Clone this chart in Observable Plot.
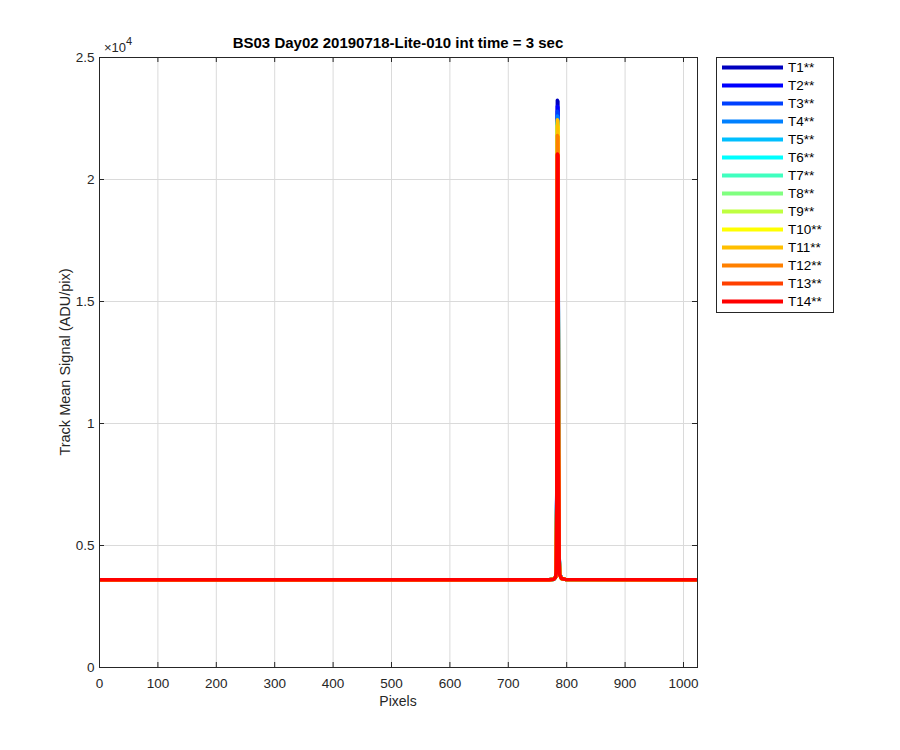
<!DOCTYPE html>
<html><head><meta charset="utf-8">
<script src="https://cdn.jsdelivr.net/npm/d3@7"></script>
<script src="https://cdn.jsdelivr.net/npm/@observablehq/plot@0.6"></script>
<style>body{margin:0;background:#fff;}</style>
</head><body><div id="chart"></div>
<script>
const title = "BS03 Day02 20190718-Lite-010 int time = 3 sec";
const xLabel = "Pixels";
const yLabel = "Track Mean Signal (ADU/pix)";
const yExponent = "4";
const seriesNames = ["T1**","T2**","T3**","T4**","T5**","T6**","T7**","T8**","T9**","T10**","T11**","T12**","T13**","T14**"];
const seriesColors = ["#0000BF","#0000FF","#0040FF","#0080FF","#00BFFF","#00FFFF","#40FFBF","#80FF80","#BFFF40","#FFFF00","#FFBF00","#FF8000","#FF4000","#FF0000"];
const pixels = [0, 770, 778, 781, 782, 783, 784, 785, 786, 787, 788, 791, 798, 1023];
const T1  = [3600, 3600, 3620, 3720, 3950, 7200, 23250, 23200, 9600, 4700, 3850, 3660, 3610, 3600];
const T2  = [3600, 3600, 3620, 3715, 3940, 7100, 23000, 22950, 9500, 4680, 3840, 3660, 3610, 3600];
const T3  = [3600, 3600, 3620, 3710, 3930, 7000, 22800, 22750, 9400, 4650, 3830, 3655, 3610, 3600];
const T4  = [3600, 3600, 3620, 3710, 3920, 6950, 22600, 22550, 9350, 4640, 3830, 3655, 3610, 3600];
const T5  = [3600, 3600, 3620, 3705, 3915, 6900, 22400, 22350, 9300, 4620, 3820, 3655, 3610, 3600];
const T6  = [3600, 3600, 3620, 3705, 3910, 6850, 22350, 22300, 9250, 4610, 3820, 3650, 3610, 3600];
const T7  = [3600, 3600, 3620, 3700, 3910, 6800, 22300, 22250, 9200, 4600, 3815, 3650, 3610, 3600];
const T8  = [3600, 3600, 3620, 3700, 3905, 6750, 22250, 22200, 9150, 4590, 3810, 3650, 3610, 3600];
const T9  = [3600, 3600, 3620, 3700, 3900, 6700, 22200, 22150, 9100, 4580, 3810, 3650, 3610, 3600];
const T10 = [3600, 3600, 3620, 3700, 3900, 6650, 22200, 22150, 9050, 4570, 3805, 3650, 3610, 3600];
const T11 = [3600, 3600, 3620, 3700, 3900, 6650, 22450, 22400, 9050, 4570, 3805, 3650, 3610, 3600];
const T12 = [3600, 3600, 3620, 3700, 3895, 6600, 21800, 21750, 8900, 4550, 3800, 3650, 3610, 3600];
const T13 = [3600, 3600, 3620, 3700, 3890, 6550, 21000, 20950, 8800, 4530, 3800, 3650, 3610, 3600];
const T14 = [3600, 3600, 3620, 3700, 3890, 6550, 21050, 21000, 8800, 4530, 3800, 3650, 3610, 3600];
const seriesValues = [T1,T2,T3,T4,T5,T6,T7,T8,T9,T10,T11,T12,T13,T14];
const xTicks = [0,100,200,300,400,500,600,700,800,900,1000];
const yTicks = [0,5000,10000,15000,20000,25000];
const yTickLabels = ["0","0.5","1","1.5","2","2.5"];

const rows = seriesNames.flatMap((s, i) => pixels.map((p, j) => ({series: s, x: p, y: seriesValues[i][j]})));

const W = 900, H = 750, ML = 99, MR = 203, MT = 57, MB = 83;
const xMax = 1024, yMax = 25000;
const tickPx = 5;
const tx = xMax * tickPx / (W - ML - MR);
const ty = yMax * tickPx / (H - MT - MB);
const axisColor = "#262626";
const font = "'Liberation Sans', Arial, Helvetica, sans-serif";

const chart = Plot.plot({
  width: W, height: H,
  marginLeft: ML, marginRight: MR, marginTop: MT, marginBottom: MB,
  style: {fontFamily: font, fontSize: "13.5px", color: axisColor, background: "#fff", overflow: "visible"},
  x: {domain: [0, xMax]},
  y: {domain: [0, yMax]},
  color: {domain: seriesNames, range: seriesColors},
  marks: [
    Plot.ruleX(xTicks, {x: d => d, stroke: "#dadada", strokeWidth: 1}),
    Plot.ruleY(yTicks, {y: d => d, stroke: "#dadada", strokeWidth: 1}),
    Plot.line(rows, {x: "x", y: "y", z: "series", stroke: "series", strokeWidth: 3.5, strokeLinejoin: "round", strokeLinecap: "butt", clip: true}),
    Plot.ruleX(xTicks, {x: d => d, y1: 0, y2: ty, stroke: axisColor}),
    Plot.ruleX(xTicks, {x: d => d, y1: yMax - ty, y2: yMax, stroke: axisColor}),
    Plot.ruleY(yTicks, {y: d => d, x1: 0, x2: tx, stroke: axisColor}),
    Plot.ruleY(yTicks, {y: d => d, x1: xMax - tx, x2: xMax, stroke: axisColor}),
    Plot.frame({stroke: axisColor, strokeWidth: 1}),
    Plot.axisX({ticks: xTicks, tickSize: 0, tickPadding: 11, label: null, tickFormat: d => String(d)}),
    Plot.axisY({ticks: yTicks, tickSize: 0, tickPadding: 5, label: null, tickFormat: d => yTickLabels[yTicks.indexOf(d)]})
  ]
});
document.getElementById("chart").appendChild(chart);

const svg = d3.select(chart);
const cx = ML + (W - ML - MR) / 2;
svg.append("text").attr("x", cx).attr("y", 48).attr("text-anchor", "middle")
  .attr("font-family", font).attr("font-size", 15).attr("font-weight", "bold").attr("fill", "#000").text(title);
svg.append("text").attr("x", cx).attr("y", 706).attr("text-anchor", "middle")
  .attr("font-family", font).attr("font-size", 14).attr("fill", axisColor).text(xLabel);
svg.append("text").attr("transform", `translate(70,${MT + (H - MT - MB) / 2}) rotate(-90)`).attr("text-anchor", "middle")
  .attr("font-family", font).attr("font-size", 14.5).attr("fill", axisColor).text(yLabel);
const ex = svg.append("text").attr("x", 104).attr("y", 52).attr("text-anchor", "start")
  .attr("font-family", font).attr("font-size", 13).attr("fill", axisColor);
ex.append("tspan").text("\u00d710");
ex.append("tspan").attr("dy", -7).attr("font-size", 11).text(yExponent);

const lg = svg.append("g");
lg.append("rect").attr("x", 716.5).attr("y", 57.5).attr("width", 117).attr("height", 255)
  .attr("fill", "#fff").attr("stroke", axisColor).attr("stroke-width", 1);
seriesNames.forEach((s, i) => {
  const yy = 67.5 + i * 18;
  lg.append("line").attr("x1", 722).attr("x2", 783).attr("y1", yy).attr("y2", yy)
    .attr("stroke", seriesColors[i]).attr("stroke-width", 4);
  lg.append("text").attr("x", 788).attr("y", yy).attr("dy", "0.36em").attr("text-anchor", "start")
    .attr("font-family", font).attr("font-size", 13.5).attr("fill", "#000").text(s);
});
</script>
</body></html>
